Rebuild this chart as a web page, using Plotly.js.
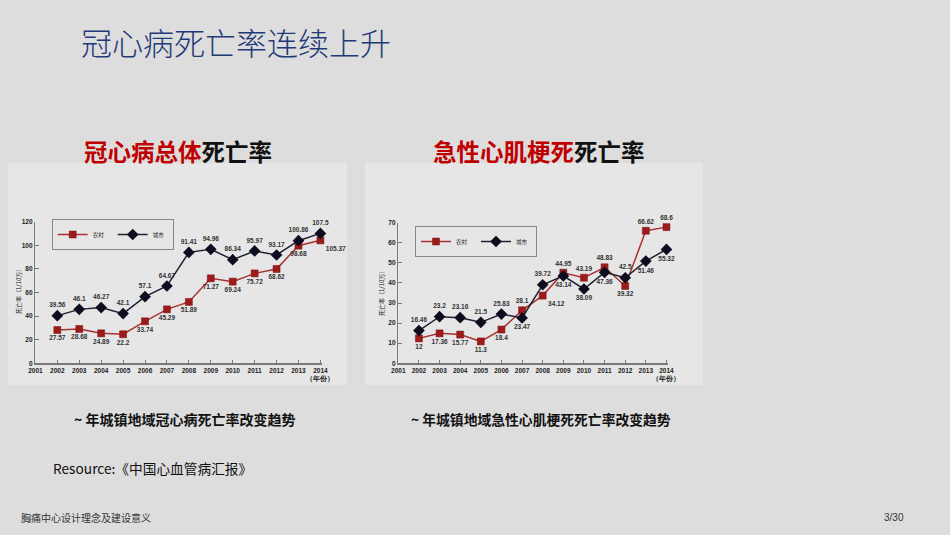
<!DOCTYPE html>
<html>
<head>
<meta charset="utf-8">
<script src="https://cdn.plot.ly/plotly-3.0.1.min.js"></script>
<style>
html,body{margin:0;padding:0;background:#dddddd;}
#chart{width:950px;height:535px;}
</style>
</head>
<body>
<div id="chart"></div>
<script>
// ---- data ----
const years = [2002, 2003, 2004, 2005, 2006, 2007, 2008, 2009, 2010, 2011, 2012, 2013, 2014];
const tickYears = [2001, 2002, 2003, 2004, 2005, 2006, 2007, 2008, 2009, 2010, 2011, 2012, 2013, 2014];
const tickLabels = ['2001','2002','2003','2004','2005','2006','2007','2008','2009','2010','2011','2012','2013','2014<br>（年份）'];
const seriesNames = ['农村', '城市'];

// Chart 1: 冠心病总体死亡率 (plotted positions)
const chdRural = [28.2, 29.1, 25.4, 24.6, 35.6, 45.7, 52.0, 72.0, 69.2, 76.2, 79.9, 99.7, 104.2];
const chdUrban = [40.4, 45.7, 47.2, 42.1, 56.5, 65.5, 94.0, 96.6, 87.8, 95.2, 91.8, 103.9, 110.1];
const chdRuralLabels = ['27.57','28.68','24.89','22.2','33.74','45.29','51.89','71.27','69.24','75.72','68.62','98.68','105.37'];
const chdUrbanLabels = ['39.56','46.1','46.27','42.1','57.1','64.67','91.41','94.96','86.34','95.97','93.17','100.86','107.5'];

// Chart 2: 急性心肌梗死死亡率 (plotted positions)
const amiRural = [12.4, 14.9, 14.3, 10.9, 16.8, 26.4, 33.7, 45.1, 42.6, 47.8, 38.5, 66.0, 67.8];
const amiUrban = [16.3, 23.2, 22.7, 20.4, 24.5, 22.6, 39.1, 43.5, 37.0, 45.3, 42.6, 50.9, 56.7];
const amiRuralLabels = ['12','17.36','15.77','11.3','18.4','28.1','34.12','44.95','43.19','48.83','39.32','66.62','68.6'];
const amiUrbanLabels = ['16.46','23.2','23.16','21.5','25.83','23.47','39.72','43.14','38.09','47.36','42.5','51.46','55.32'];

// ---- styles ----
const RED = '#9e1b1b', RED_LINE = '#a83232';
const BLK = '#0d0d1f', BLK_LINE = '#202030';
const labelFont = {family: 'Liberation Sans, Arial, sans-serif', size: 6.5, color: '#333333', weight: 'bold'};

const chdRuralPos = years.map((y,i)=> i===12 ? 'bottom right' : 'bottom center');
const chdUrbanPos = years.map(()=> 'top center');
const amiRuralPos = ['bottom center','bottom center','bottom center','bottom center','bottom center','top center','bottom right','top center','top center','top center','bottom center','top center','top center'];
const amiUrbanPos = ['top center','top center','top center','top center','top center','bottom center','top center','bottom center','bottom center','bottom center','top center','bottom center','bottom center'];

function ruralTrace(y, text, pos, xa, ya, legend) {
  return {x: years, y: y, text: text, textposition: pos, mode: 'lines+markers+text',
    name: seriesNames[0], xaxis: xa, yaxis: ya, legend: legend, cliponaxis: false,
    line: {color: RED_LINE, width: 1.5},
    marker: {symbol: 'square', size: 7, color: RED, line: {color: '#7a1010', width: 0.5}},
    textfont: labelFont, hoverinfo: 'skip'};
}
function urbanTrace(y, text, pos, xa, ya, legend) {
  return {x: years, y: y, text: text, textposition: pos, mode: 'lines+markers+text',
    name: seriesNames[1], xaxis: xa, yaxis: ya, legend: legend, cliponaxis: false,
    line: {color: BLK_LINE, width: 1.5},
    marker: {symbol: 'diamond', size: 9, color: BLK},
    textfont: labelFont, hoverinfo: 'skip'};
}

const traces = [
  ruralTrace(chdRural, chdRuralLabels, chdRuralPos, 'x', 'y', 'legend'),
  urbanTrace(chdUrban, chdUrbanLabels, chdUrbanPos, 'x', 'y', 'legend'),
  ruralTrace(amiRural, amiRuralLabels, amiRuralPos, 'x2', 'y2', 'legend2'),
  urbanTrace(amiUrban, amiUrbanLabels, amiUrbanPos, 'x2', 'y2', 'legend2')
];

const tickFont = {family: 'Liberation Sans, Arial, sans-serif', size: 6.5, color: '#222222', weight: 'bold'};
function xAxis(domain, anchor) {
  return {domain: domain, anchor: anchor, range: [2001, 2014.05], tickmode: 'array',
    tickvals: tickYears, ticktext: tickLabels, tickangle: 0, showgrid: false, zeroline: false,
    showline: true, linecolor: '#7a7a7a', linewidth: 1.5, ticks: 'inside', ticklen: 3,
    tickcolor: '#7a7a7a', tickfont: tickFont, fixedrange: true};
}
function yAxis(domain, anchor, max, step) {
  return {domain: domain, anchor: anchor, range: [0, max], dtick: step, tick0: 0,
    showgrid: false, zeroline: false, showline: true, linecolor: '#7a7a7a', linewidth: 1.5,
    ticks: 'inside', ticklen: 4, tickcolor: '#7a7a7a', tickfont: tickFont, fixedrange: true};
}

const CJK = '"Noto Sans CJK SC", "Noto Sans", sans-serif';
const legendBase = {xanchor: 'left', yanchor: 'top', orientation: 'h',
  bordercolor: '#888888', borderwidth: 1, bgcolor: 'rgba(0,0,0,0)',
  font: {family: CJK, size: 5.5, color: '#222'}, itemwidth: 30, tracegroupgap: 0,
  entrywidth: 15, entrywidthmode: 'pixels'};

const layout = {
  width: 950, height: 535,
  margin: {l: 0, r: 0, t: 0, b: 0},
  paper_bgcolor: '#dddddd', plot_bgcolor: 'rgba(0,0,0,0)',
  showlegend: true,
  xaxis: xAxis([35.4/950, 321.5/950], 'y'),
  yaxis: yAxis([1-363.3/535, 1-221.7/535], 'x', 120, 20),
  xaxis2: xAxis([398.3/950, 667.5/950], 'y2'),
  yaxis2: yAxis([1-363.3/535, 1-222.7/535], 'x2', 70, 10),
  legend: Object.assign({x: 51.7/950, y: 1-219/535}, legendBase),
  legend2: Object.assign({x: 415/950, y: 1-226/535}, legendBase),
  shapes: [
    {type: 'rect', xref: 'paper', yref: 'paper', x0: 8/950, x1: 347/950, y0: 1-385/535, y1: 1-163/535,
      fillcolor: '#e6e6e6', line: {width: 0}, layer: 'below'},
    {type: 'rect', xref: 'paper', yref: 'paper', x0: 365/950, x1: 703/950, y0: 1-385/535, y1: 1-163/535,
      fillcolor: '#e6e6e6', line: {width: 0}, layer: 'below'}
  ],
  annotations: [
    {text: '冠心病死亡率连续上升', xref: 'paper', yref: 'paper', x: 79/950, y: 1-41/535,
      xanchor: 'left', yanchor: 'middle', showarrow: false,
      font: {family: CJK, size: 31, color: '#1f3a78', weight: 300}},
    {text: '<b><span style="color:#c00000">冠心病总体</span>死亡率</b>', xref: 'paper', yref: 'paper',
      x: 82/950, y: 1-151/535, xanchor: 'left', yanchor: 'middle', showarrow: false,
      font: {family: CJK, size: 23.5, color: '#111111'}},
    {text: '<b><span style="color:#c00000">急性心肌梗死</span>死亡率</b>', xref: 'paper', yref: 'paper',
      x: 431/950, y: 1-151/535, xanchor: 'left', yanchor: 'middle', showarrow: false,
      font: {family: CJK, size: 23.5, color: '#111111'}},
    {text: '<b>~ 年城镇地域冠心病死亡率改变趋势</b>', xref: 'paper', yref: 'paper',
      x: 72/950, y: 1-419/535, xanchor: 'left', yanchor: 'middle', showarrow: false,
      font: {family: CJK, size: 14, color: '#111111'}},
    {text: '<b>~ 年城镇地域急性心肌梗死死亡率改变趋势</b>', xref: 'paper', yref: 'paper',
      x: 409/950, y: 1-419/535, xanchor: 'left', yanchor: 'middle', showarrow: false,
      font: {family: CJK, size: 13.8, color: '#111111'}},
    {text: 'Resource:《中国心血管病汇报》', xref: 'paper', yref: 'paper',
      x: 51/950, y: 1-468/535, xanchor: 'left', yanchor: 'middle', showarrow: false,
      font: {family: CJK, size: 13.7, color: '#111111'}},
    {text: '胸痛中心设计理念及建设意义', xref: 'paper', yref: 'paper',
      x: 19/950, y: 1-517/535, xanchor: 'left', yanchor: 'middle', showarrow: false,
      font: {family: CJK, size: 10, color: '#333333'}},
    {text: '3/30', xref: 'paper', yref: 'paper',
      x: 906/950, y: 1-517/535, xanchor: 'right', yanchor: 'middle', showarrow: false,
      font: {family: 'Liberation Sans, Arial, sans-serif', size: 10, color: '#333333'}},
    {text: '死亡率（1/10万）', xref: 'paper', yref: 'paper', x: 18/950, y: 1-290/535,
      xanchor: 'center', yanchor: 'middle', textangle: -90, showarrow: false,
      font: {family: CJK, size: 6, color: '#222222'}},
    {text: '死亡率（1/10万）', xref: 'paper', yref: 'paper', x: 381/950, y: 1-292/535,
      xanchor: 'center', yanchor: 'middle', textangle: -90, showarrow: false,
      font: {family: CJK, size: 6, color: '#222222'}}
  ]
};

Plotly.newPlot('chart', traces, layout, {staticPlot: true, displayModeBar: false});
</script>
</body>
</html>
